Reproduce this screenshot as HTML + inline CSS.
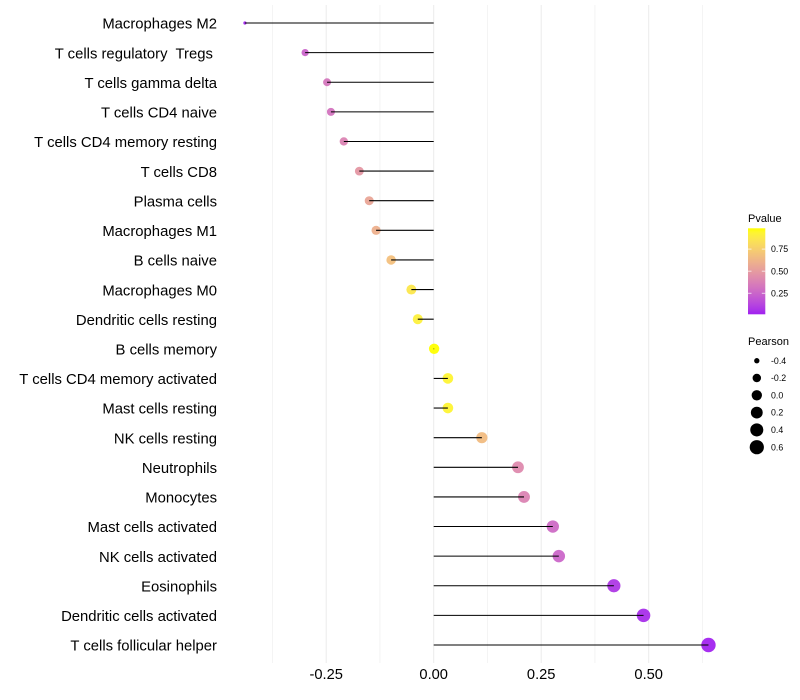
<!DOCTYPE html>
<html>
<head>
<meta charset="utf-8">
<title>Lollipop chart</title>
<style>
html,body{margin:0;padding:0;background:#fff;width:800px;height:700px;overflow:hidden}
svg{display:block;font-family:"Liberation Sans",sans-serif}
text{white-space:pre}
</style>
</head>
<body>
<svg id="chart" width="800" height="700" viewBox="0 0 800 700" xmlns="http://www.w3.org/2000/svg">
<defs><linearGradient id="pgrad" x1="0" y1="1" x2="0" y2="0"></linearGradient></defs>
<rect width="800" height="700" fill="#fff"/>
<g id="grid"></g>
<g id="points"></g>
<g id="stems"></g>
<g id="ylabels"></g>
<g id="xlabels"></g>
<g id="plegend"></g>
<g id="slegend"></g>
</svg>
<script>
const categories = ["Macrophages M2","T cells regulatory  Tregs ","T cells gamma delta","T cells CD4 naive","T cells CD4 memory resting","T cells CD8","Plasma cells","Macrophages M1","B cells naive","Macrophages M0","Dendritic cells resting","B cells memory","T cells CD4 memory activated","Mast cells resting","NK cells resting","Neutrophils","Monocytes","Mast cells activated","NK cells activated","Eosinophils","Dendritic cells activated","T cells follicular helper"];
const pearson = [-0.439,-0.299,-0.248,-0.239,-0.209,-0.173,-0.15,-0.134,-0.099,-0.052,-0.037,0.001,0.033,0.033,0.112,0.196,0.21,0.277,0.291,0.419,0.488,0.639];
const pvalue = [0.02,0.25,0.33,0.32,0.39,0.48,0.55,0.6,0.68,0.87,0.91,0.985,0.93,0.93,0.66,0.42,0.39,0.28,0.26,0.08,0.05,0.02];
const xTicks = [-0.25,0,0.25,0.5];
const xTickLabels = ["-0.25","0.00","0.25","0.50"];
const xMinorTicks = [-0.375,-0.125,0.125,0.375,0.625];
const pLegendTicks = [0.25,0.5,0.75];
const pLegendLabels = ["0.25","0.50","0.75"];
const sizeLegendValues = [-0.4,-0.2,0,0.2,0.4,0.6];
const sizeLegendLabels = ["-0.4","-0.2","0.0","0.2","0.4","0.6"];

const NS = "http://www.w3.org/2000/svg";
function mk(parent, tag, attrs, txt){
  const e = document.createElementNS(NS, tag);
  for (const k in attrs) e.setAttribute(k, attrs[k]);
  if (txt !== undefined) e.textContent = txt;
  document.getElementById(parent).appendChild(e);
  return e;
}
const xScale = v => 433.7 + 430 * v;
const yScale = i => 23 + i * (622 / (categories.length - 1));
const pMin = Math.min(...pearson), pMax = Math.max(...pearson);
const diam = v => 3.2 + 11.2 * Math.sqrt(Math.max(0, (v - pMin) / (pMax - pMin)));

function toLab(c){
  const l = c.map(v => { v /= 255; return v > 0.04045 ? Math.pow((v + 0.055) / 1.055, 2.4) : v / 12.92; });
  const X = (0.4124 * l[0] + 0.3576 * l[1] + 0.1805 * l[2]) / 0.95047;
  const Y = 0.2126 * l[0] + 0.7152 * l[1] + 0.0722 * l[2];
  const Z = (0.0193 * l[0] + 0.1192 * l[1] + 0.9505 * l[2]) / 1.08883;
  const f = t => t > 0.008856 ? Math.cbrt(t) : 7.787 * t + 16 / 116;
  return [116 * f(Y) - 16, 500 * (f(X) - f(Y)), 200 * (f(Y) - f(Z))];
}
function fromLab(L){
  const fy = (L[0] + 16) / 116, fx = fy + L[1] / 500, fz = fy - L[2] / 200;
  const g = t => t * t * t > 0.008856 ? t * t * t : (t - 16 / 116) / 7.787;
  const X = g(fx) * 0.95047, Y = g(fy), Z = g(fz) * 1.08883;
  const r = [3.2406 * X - 1.5372 * Y - 0.4986 * Z, -0.9689 * X + 1.8758 * Y + 0.0415 * Z, 0.0557 * X - 0.204 * Y + 1.057 * Z];
  return "rgb(" + r.map(v => {
    v = Math.min(1, Math.max(0, v));
    v = v > 0.0031308 ? 1.055 * Math.pow(v, 1 / 2.4) - 0.055 : 12.92 * v;
    return Math.round(v * 255);
  }).join(",") + ")";
}
const labLow = toLab([160, 32, 240]), labHigh = toLab([255, 255, 0]);
const colorAt = t => fromLab(labLow.map((a, i) => a + (labHigh[i] - a) * t));
const pDomMin = 0.012, pDomMax = 0.985;
const pColor = p => colorAt(Math.min(1, Math.max(0, (p - pDomMin) / (pDomMax - pDomMin))));

xMinorTicks.forEach(v => {
  const g = mk("grid", "line", {x1: xScale(v), x2: xScale(v), y1: 5, y2: 663, stroke: "#ebebeb", "stroke-width": 0.55});
  
  
});
xTicks.forEach(v => {
  const g = mk("grid", "line", {x1: xScale(v), x2: xScale(v), y1: 5, y2: 663, stroke: "#ebebeb", "stroke-width": 1});
  
  
});

categories.forEach((c, i) => {
  const y = yScale(i);
  const pt = mk("points", "circle", {cx: xScale(pearson[i]), cy: y, r: diam(pearson[i]) / 2, fill: pColor(pvalue[i]), "fill-opacity": 0.95});
  
  
  const st = mk("stems", "line", {x1: xScale(0), x2: xScale(pearson[i]), y1: y, y2: y, stroke: "#000", "stroke-width": 1.07});
  
  
  const lb = mk("ylabels", "text", {x: 217, y: y + 5.7, "text-anchor": "end", "font-size": 14.85, fill: "#000"}, c);
  
  
});

xTicks.forEach((v, i) => {
  const t = mk("xlabels", "text", {x: xScale(v), y: 679, "text-anchor": "middle", "font-size": 14.67, fill: "#000"}, xTickLabels[i]);
  
  
});

const grad = document.getElementById("pgrad");
for (let s = 0; s <= 20; s++) {
  const stop = document.createElementNS(NS, "stop");
  stop.setAttribute("offset", s / 20);
  stop.setAttribute("stop-color", colorAt(s / 20));
  grad.appendChild(stop);
}
const pTitle = mk("plegend", "text", {x: 748, y: 222, "font-size": 11, fill: "#000"}, "Pvalue");


const pBar = mk("plegend", "rect", {x: 748, y: 228.3, width: 17.3, height: 86, fill: "url(#pgrad)"});


const pY = p => 315.4 - (p / 0.25) * 22.1;
pLegendTicks.forEach((p, i) => {
  const y = pY(p);
  const t1 = mk("plegend", "line", {x1: 748, x2: 751.5, y1: y, y2: y, stroke: "#fff", "stroke-width": 1, "stroke-opacity": 0.7});
  
  
  const t2 = mk("plegend", "line", {x1: 761.8, x2: 765.3, y1: y, y2: y, stroke: "#fff", "stroke-width": 1, "stroke-opacity": 0.7});
  
  
  const l = mk("plegend", "text", {x: 771, y: y + 3.1, "font-size": 8.8, fill: "#000"}, pLegendLabels[i]);
  
  
});

const sTitle = mk("slegend", "text", {x: 748, y: 345, "font-size": 11, fill: "#000"}, "Pearson");


sizeLegendValues.forEach((v, i) => {
  const y = 360.7 + i * 17.3;
  const k = mk("slegend", "circle", {cx: 756.8, cy: y, r: diam(v) / 2, fill: "#000"});
  
  
  const l = mk("slegend", "text", {x: 771, y: y + 3.1, "font-size": 8.8, fill: "#000"}, sizeLegendLabels[i]);
  
  
});
</script>
</body>
</html>
